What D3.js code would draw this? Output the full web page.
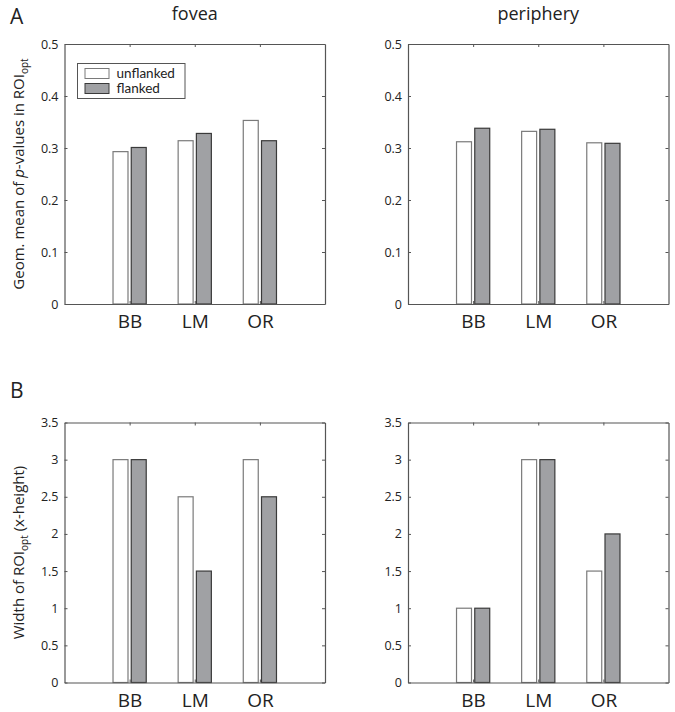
<!DOCTYPE html>
<html>
<head>
<meta charset="utf-8">
<script src="https://cdn.jsdelivr.net/npm/d3@7"></script>
<style>
  html, body { margin: 0; padding: 0; background: #fff; }
  svg { display: block; font-family: "Open Sans", "Noto Sans", sans-serif; }
</style>
</head>
<body>
<svg id="chart" width="675" height="712"></svg>
<script>
// ---------- data ----------
const categories = ["BB", "LM", "OR"];
const seriesNames = ["unflanked", "flanked"];
const pFoveaUnflanked = [0.293, 0.314, 0.353];
const pFoveaFlanked = [0.301, 0.328, 0.314];
const pPeripheryUnflanked = [0.312, 0.332, 0.310];
const pPeripheryFlanked = [0.338, 0.336, 0.309];
const wFoveaUnflanked = [3, 2.5, 3];
const wFoveaFlanked = [3, 1.5, 2.5];
const wPeripheryUnflanked = [1, 3, 1.5];
const wPeripheryFlanked = [1, 3, 2];
const yTicksP = [0, 0.1, 0.2, 0.3, 0.4, 0.5];
const yTicksW = [0, 0.5, 1, 1.5, 2, 2.5, 3, 3.5];
const columnTitles = ["fovea", "periphery"];
const rowLabels = ["A", "B"];

// ---------- layout / style ----------
const fills = ["#ffffff", "#a0a1a4"];
const edges = ["#7a7a7a", "#3a3a3a"];
const axisColor = "#555";
const textColor = "#222";
const colX = [64.5, 408];
const rowY = [44, 422.5];
const plotW = 260.5, plotH = 260;

const svg = d3.select("#chart");
const fmt = d3.format("~g");

const panels = [
  { col: 0, row: 0, vals: [pFoveaUnflanked, pFoveaFlanked], ticks: yTicksP, max: 0.5 },
  { col: 1, row: 0, vals: [pPeripheryUnflanked, pPeripheryFlanked], ticks: yTicksP, max: 0.5 },
  { col: 0, row: 1, vals: [wFoveaUnflanked, wFoveaFlanked], ticks: yTicksW, max: 3.5 },
  { col: 1, row: 1, vals: [wPeripheryUnflanked, wPeripheryFlanked], ticks: yTicksW, max: 3.5 }
];

panels.forEach(p => {
  const g = svg.append("g").attr("transform", `translate(${colX[p.col]},${rowY[p.row]})`);
  const x = d3.scaleLinear().domain([0, categories.length + 1]).range([0, plotW]);
  const y = d3.scaleLinear().domain([0, p.max]).range([plotH, 0]);
  const offset = d3.scaleLinear().domain([0, 1]).range([-0.14, 0.14]);
  const barW = 0.23;

  // bars
  p.vals.forEach((vals, s) => {
    g.append("g").selectAll("rect").data(vals).join("rect")
      .attr("x", (d, i) => x(i + 1 + offset(s) - barW / 2))
      .attr("width", x(barW) - x(0))
      .attr("y", d => y(d))
      .attr("height", d => y(0) - y(d))
      .attr("fill", fills[s])
      .attr("stroke", edges[s])
      .attr("stroke-width", 1.2);
  });

  // axes
  const left = g.append("g").call(d3.axisLeft(y).tickValues(p.ticks).tickFormat(fmt)
    .tickSizeInner(-3).tickSizeOuter(0).tickPadding(6));
  const right = g.append("g").attr("transform", `translate(${plotW},0)`)
    .call(d3.axisRight(y).tickValues(p.ticks).tickFormat("").tickSizeInner(-3).tickSizeOuter(0));
  const catTicks = categories.map((c, i) => i + 1);
  const top = g.append("g")
    .call(d3.axisTop(x).tickValues(catTicks).tickFormat("").tickSizeInner(-3).tickSizeOuter(0));
  const bottom = g.append("g").attr("transform", `translate(0,${plotH})`)
    .call(d3.axisBottom(x).tickValues(catTicks).tickFormat((d, i) => categories[i])
      .tickSizeInner(-3).tickSizeOuter(0).tickPadding(0));

  [left, right, top, bottom].forEach(a => {
    a.select(".domain").attr("stroke", axisColor).attr("stroke-width", 1.2);
    a.selectAll(".tick line").attr("stroke", axisColor);
    a.attr("font-family", null).attr("font-size", null);
  });
  left.selectAll("text").attr("font-size", 12.5).attr("fill", textColor);
  bottom.selectAll("text").attr("font-size", 19).attr("fill", textColor)
    .attr("dy", null).attr("y", 24);

  // column titles
  if (p.row === 0) {
    svg.append("text")
      .attr("x", colX[p.col] + plotW / 2).attr("y", 20)
      .attr("text-anchor", "middle").attr("font-size", 18).attr("fill", textColor)
      .text(columnTitles[p.col]);
  }
});

// row labels
rowLabels.forEach((t, i) => {
  svg.append("text").attr("x", 10).attr("y", i === 0 ? 23.5 : 397.5)
    .attr("font-size", 21).attr("fill", textColor).text(t);
});

// y-axis labels
const yl1 = svg.append("text")
  .attr("transform", `translate(24,${rowY[0] + plotH / 2}) rotate(-90)`)
  .attr("text-anchor", "middle").attr("font-size", 15).attr("fill", textColor);
yl1.append("tspan").text("Geom. mean of ");
yl1.append("tspan").attr("font-style", "italic").text("p");
yl1.append("tspan").text("-values in ROI");
yl1.append("tspan").attr("font-size", 10).attr("dy", 4).text("opt");

const yl2 = svg.append("text")
  .attr("transform", `translate(24,${rowY[1] + plotH / 2}) rotate(-90)`)
  .attr("text-anchor", "middle").attr("font-size", 15).attr("fill", textColor);
yl2.append("tspan").text("Width of ROI");
yl2.append("tspan").attr("font-size", 10).attr("dy", 4).text("opt");
yl2.append("tspan").attr("dy", -4).text(" (x-height)");

// legend
const lg = svg.append("g").attr("transform", "translate(77.5,63.5)");
lg.append("rect").attr("width", 107.5).attr("height", 35)
  .attr("fill", "#fff").attr("stroke", axisColor).attr("stroke-width", 1);
seriesNames.forEach((name, s) => {
  lg.append("rect").attr("x", 7.5).attr("y", 5 + s * 15).attr("width", 24).attr("height", 10)
    .attr("fill", fills[s]).attr("stroke", edges[s]).attr("stroke-width", 1);
  lg.append("text").attr("x", 39).attr("y", 14 + s * 15)
    .attr("font-family", "Lato, 'Open Sans', sans-serif")
    .attr("font-size", 13.5).attr("fill", textColor).text(name);
});
</script>
</body>
</html>
